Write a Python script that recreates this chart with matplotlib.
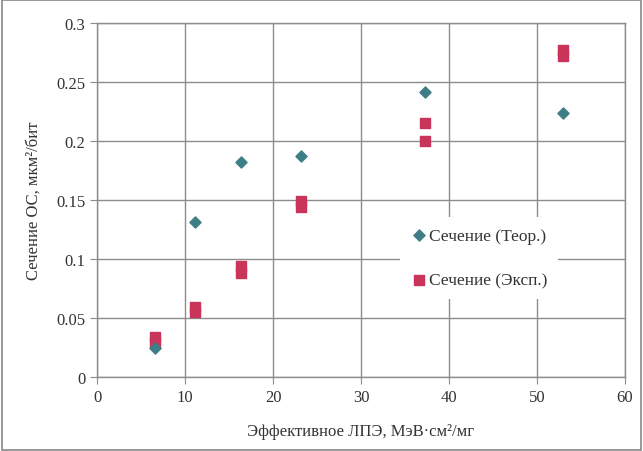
import matplotlib
matplotlib.use("Agg")
import matplotlib.pyplot as plt
from matplotlib.patches import Rectangle

plt.rcParams['font.family'] = ['Liberation Serif', 'DejaVu Serif']

# theoretical cross section
let_teor = [6.6, 11.1, 16.4, 23.2, 37.3, 53.0]
sec_teor = [0.0245, 0.131, 0.182, 0.187, 0.2415, 0.224]

# experimental cross section (two runs per LET)
let_exp = [6.6, 6.6, 11.1, 11.1, 16.4, 16.4, 23.2, 23.2, 37.3, 37.3, 53.0, 53.0]
sec_exp = [0.029, 0.034, 0.055, 0.059, 0.088, 0.094, 0.144, 0.149, 0.200, 0.215, 0.272, 0.277]

xticks = [0, 10, 20, 30, 40, 50, 60]
yticks = [0, 0.05, 0.1, 0.15, 0.2, 0.25, 0.3]
yticklabels = ['0', '0.05', '0.1', '0.15', '0.2', '0.25', '0.3']

fig = plt.figure(figsize=(6.43, 4.52), dpi=100)
ax = fig.add_axes([97/643, 1-378/452, 528/643, 354/452])

gc = '#8c8c8c'
ax.grid(True, color=gc, linewidth=1.0)
ax.set_axisbelow(True)
for s in ax.spines.values():
    s.set_color(gc)
    s.set_linewidth(1.0)

ax.scatter(let_teor, sec_teor, marker='D', s=32, color='#3d7e86', zorder=3,
           label='Сечение (Теор.)')
ax.scatter(let_exp, sec_exp, marker='s', s=60, color='#c9345a', zorder=2,
           label='Сечение (Эксп.)')

ax.set_xlim(0, 60)
ax.set_ylim(0, 0.3)
ax.set_xticks(xticks)
ax.set_yticks(yticks)
ax.set_yticklabels(yticklabels)
ax.tick_params(colors=gc, labelcolor='#333333', labelsize=12, length=5, direction='out')

ax.set_xlabel('Эффективное ЛПЭ, МэВ·см²/мг', fontsize=12, color='#333333', labelpad=13)
ax.set_ylabel('Сечение ОС, мкм²/бит', fontsize=12, color='#333333', labelpad=10)

# legend sits on a white patch that hides the grid behind it
leg = ax.legend(loc='upper left', bbox_to_anchor=(0.573, 0.452), frameon=True,
                fontsize=12.5, handletextpad=0.1, labelspacing=1.65, borderaxespad=0,
                borderpad=0.6, handlelength=1.0, labelcolor='#333333',
                facecolor='white', edgecolor='none', framealpha=1, fancybox=False)

fig.patches.append(Rectangle((0.003, 0.003), 0.994, 0.994, transform=fig.transFigure,
                             fill=False, edgecolor='#888888', linewidth=1.2))

fig.savefig('out.png', dpi=100)
